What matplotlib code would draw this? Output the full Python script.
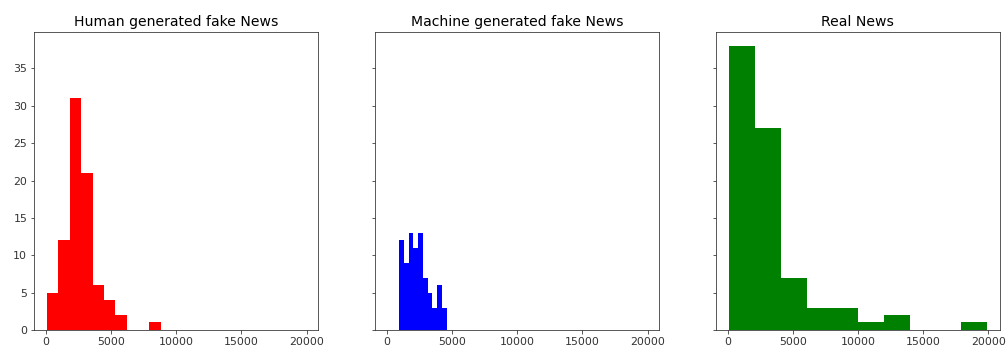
import numpy as np
import matplotlib
matplotlib.use('Agg')
import matplotlib.pyplot as plt

# word-count histograms, counts read per bin (10 bins each)
titles = ['Human generated fake News', 'Machine generated fake News', 'Real News']
colors = ['red', 'blue', 'green']

human_counts = [5, 12, 31, 21, 6, 4, 2, 0, 0, 1]
human_range = (100, 8800)

machine_counts = [12, 9, 13, 11, 13, 7, 5, 3, 6, 3]
machine_range = (950, 4600)

real_counts = [38, 27, 7, 3, 3, 1, 2, 0, 0, 1]
real_range = (150, 19900)

x_ticks = [0, 5000, 10000, 15000, 20000]

all_counts = [human_counts, machine_counts, real_counts]
all_ranges = [human_range, machine_range, real_range]

fig, axes = plt.subplots(1, 3, sharex=True, sharey=True, figsize=(1007 / 72, 354 / 72), dpi=72)
fig.subplots_adjust(left=0.034, right=0.993, top=0.91, bottom=0.068, wspace=0.2)

for ax, counts, rng, col, title in zip(axes, all_counts, all_ranges, colors, titles):
    edges = np.linspace(rng[0], rng[1], len(counts) + 1)
    ax.hist(edges[:-1], bins=edges, weights=counts, color=col)
    ax.set_title(title, fontsize=14)
    ax.set_xticks(x_ticks)
    ax.tick_params(labelsize=11, colors='#333333')
    for sp in ax.spines.values():
        sp.set_color('#333333')

fig.savefig('out.png', dpi=72)
